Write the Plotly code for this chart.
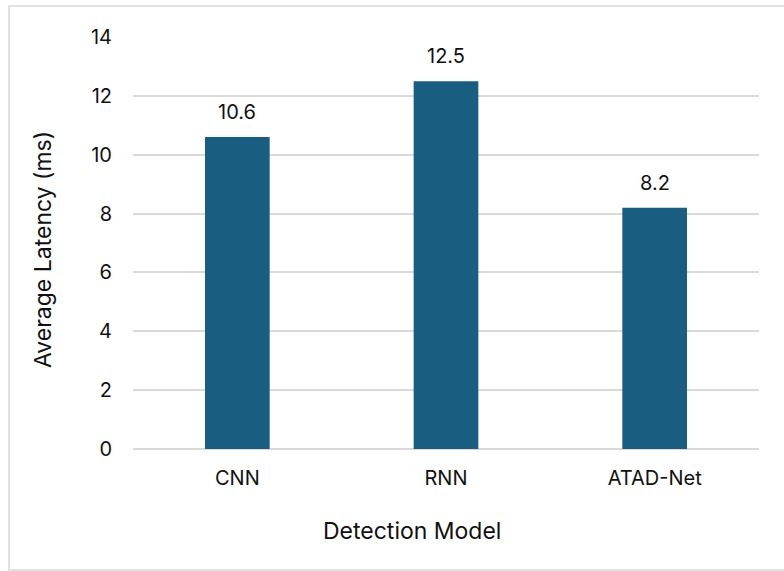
import plotly.graph_objects as go

models = ["CNN", "RNN", "ATAD-Net"]
latency_ms = [10.6, 12.5, 8.2]
y_ticks = [0, 2, 4, 6, 8, 10, 12, 14]

font_family = "Inter, Liberation Sans, Arial, sans-serif"
ink = "#111111"

# plot-area geometry in pixels (used to place the axis titles)
L, R, T, B = 133, 25, 37, 122
W, H = 784, 571
PW, PH = W - L - R, H - T - B

fig = go.Figure(
    go.Bar(
        x=models,
        y=latency_ms,
        marker=dict(color="#195e80", line=dict(width=0)),
        hoverinfo="x+y",
    )
)

# value labels sitting above each bar
for m, v in zip(models, latency_ms):
    fig.add_annotation(
        x=m, y=v, text=f"{v:.1f}", showarrow=False,
        yshift=25, font=dict(size=20, color=ink, family=font_family),
    )

# axis titles
fig.add_annotation(
    text="Detection Model", xref="paper", yref="paper",
    x=(412 - L) / PW, y=-(531 - (T + PH)) / PH,
    xanchor="center", yanchor="middle", showarrow=False,
    font=dict(size=23, color=ink, family=font_family),
)
fig.add_annotation(
    text="Average Latency (ms)", xref="paper", yref="paper",
    x=(43 - L) / PW, y=((T + PH) - 250) / PH, textangle=-90,
    xanchor="center", yanchor="middle", showarrow=False,
    font=dict(size=23, color=ink, family=font_family),
)

fig.update_layout(
    width=W,
    height=H,
    paper_bgcolor="white",
    plot_bgcolor="white",
    margin=dict(l=L, r=R, t=T, b=B),
    bargap=0.69,
    showlegend=False,
    font=dict(family=font_family, color=ink),
    shapes=[
        # chart-area frame; its right edge runs past the page
        dict(
            type="rect", xref="paper", yref="paper",
            x0=(9 - L) / PW, x1=(800 - L) / PW,
            y0=-(570 - (T + PH)) / PH, y1=((T + PH) - 6) / PH,
            line=dict(color="#d9d9d9", width=1.5),
            fillcolor="rgba(0,0,0,0)", layer="below",
        )
    ],
)

fig.update_xaxes(
    showline=False,
    showgrid=False,
    ticks="",
    ticklabelstandoff=15,
    tickfont=dict(size=20, color=ink),
)

fig.update_yaxes(
    range=[0, 14],
    tickvals=y_ticks,
    showgrid=True,
    gridcolor="#d9d9d9",
    gridwidth=1.5,
    zeroline=True,
    zerolinecolor="#d9d9d9",
    zerolinewidth=1.5,
    ticks="",
    ticklabelstandoff=20,
    tickfont=dict(size=20, color=ink),
)

fig.write_html("out.html")
